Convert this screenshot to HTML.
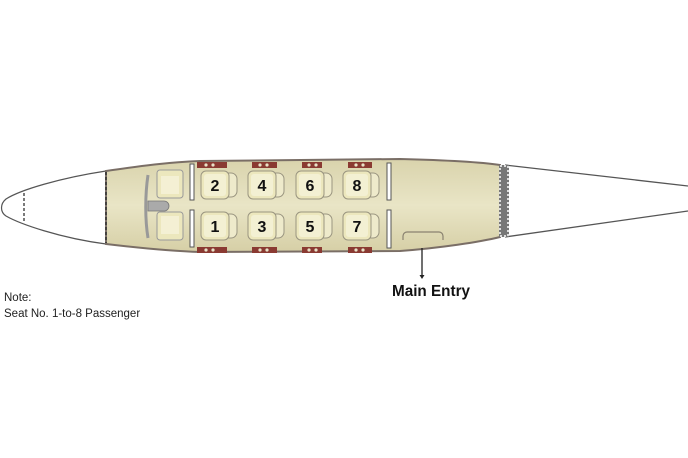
<!DOCTYPE html>
<html><head><meta charset="utf-8"><style>
body{margin:0;background:#fff;width:688px;height:458px;overflow:hidden}
svg{display:block}
</style></head><body>
<svg width="688" height="458" viewBox="0 0 688 458" xmlns="http://www.w3.org/2000/svg">
<defs>
<linearGradient id="cab" x1="0" y1="0" x2="0" y2="1">
<stop offset="0" stop-color="#d9d3ac"/><stop offset="0.5" stop-color="#e9e5c6"/><stop offset="1" stop-color="#d6cfa6"/>
</linearGradient>
<g id="seat">
<path d="M26 2 h4 a6 6 0 0 1 6 6 v12 a6 6 0 0 1 -6 6 h-4z" fill="#eeeacb" stroke="#9a9580" stroke-width="1"/>
<rect x="0" y="0" width="28" height="28" rx="5" fill="#ece7bd" stroke="#9a9580" stroke-width="1"/>
<rect x="3" y="3" width="22" height="22" rx="3" fill="#f3f0d3"/>
</g>
</defs>
<path d="M106 171 C60 178 20 190 6 199 C0 204 0 212 6 216 C20 224 60 238 106 244 Z" fill="#fff" stroke="#555" stroke-width="1.2"/>
<line x1="24" y1="193" x2="24" y2="223" stroke="#333" stroke-width="1.3" stroke-dasharray="3,2"/>
<path d="M505 165 L688 186 M505 237 L688 211" stroke="#555" stroke-width="1.3" fill="none"/>
<path d="M106 171 C140 166 170 162 200 161 L400 159 C440 160 480 162 500 165 L500 237 C480 242 440 248 400 251 L200 252 C170 251 140 248 106 244 Z" fill="url(#cab)" stroke="#7a6e66" stroke-width="2"/>
<line x1="106" y1="172" x2="106" y2="243" stroke="#333" stroke-width="1.5" stroke-dasharray="3,2"/>
<rect x="499" y="165" width="10" height="72" fill="#777"/>
<rect x="500" y="166" width="8" height="70" fill="none" stroke="#ddd" stroke-width="2" stroke-dasharray="2,2"/>
<g fill="#8a3a32">
<rect x="197" y="162" width="30" height="6"/><rect x="252" y="162" width="25" height="6"/><rect x="302" y="162" width="20" height="6"/><rect x="348" y="162" width="24" height="6"/>
<rect x="197" y="247" width="30" height="6"/><rect x="252" y="247" width="25" height="6"/><rect x="302" y="247" width="20" height="6"/><rect x="348" y="247" width="24" height="6"/>
</g>
<g fill="#e8e2c8">
<circle cx="206" cy="165" r="1.6"/><circle cx="213" cy="165" r="1.6"/><circle cx="260" cy="165" r="1.6"/><circle cx="267" cy="165" r="1.6"/><circle cx="309" cy="165" r="1.6"/><circle cx="316" cy="165" r="1.6"/><circle cx="356" cy="165" r="1.6"/><circle cx="363" cy="165" r="1.6"/>
<circle cx="206" cy="250" r="1.6"/><circle cx="213" cy="250" r="1.6"/><circle cx="260" cy="250" r="1.6"/><circle cx="267" cy="250" r="1.6"/><circle cx="309" cy="250" r="1.6"/><circle cx="316" cy="250" r="1.6"/><circle cx="356" cy="250" r="1.6"/><circle cx="363" cy="250" r="1.6"/>
</g>
<g fill="#fff" stroke="#555" stroke-width="1">
<rect x="190" y="164" width="4" height="36"/><rect x="190" y="210" width="4" height="37"/>
<rect x="387" y="163" width="4" height="37"/><rect x="387" y="210" width="4" height="38"/>
</g>
<path d="M148 175 C145 195 145 220 148 238" stroke="#999" stroke-width="3" fill="none"/>
<path d="M148 201 h16 a5 5 0 0 1 0 10 h-16 z" fill="#aaa" stroke="#777" stroke-width="0.8"/>
<rect x="157" y="170" width="26" height="28" rx="3" fill="#ece7bd" stroke="#999"/>
<rect x="161" y="176" width="18" height="18" fill="#f4f0d4"/>
<rect x="157" y="212" width="26" height="28" rx="3" fill="#ece7bd" stroke="#999"/>
<rect x="161" y="216" width="18" height="18" fill="#f4f0d4"/>
<use href="#seat" x="201" y="171"/><use href="#seat" x="248" y="171"/><use href="#seat" x="296" y="171"/><use href="#seat" x="343" y="171"/>
<use href="#seat" x="201" y="212"/><use href="#seat" x="248" y="212"/><use href="#seat" x="296" y="212"/><use href="#seat" x="343" y="212"/>
<g font-family="Liberation Sans, sans-serif" font-weight="bold" font-size="16" fill="#111" text-anchor="middle">
<text x="215" y="191">2</text><text x="262" y="191">4</text><text x="310" y="191">6</text><text x="357" y="191">8</text>
<text x="215" y="232">1</text><text x="262" y="232">3</text><text x="310" y="232">5</text><text x="357" y="232">7</text>
</g>
<path d="M403 240 v-4 a4 4 0 0 1 4 -4 h32 a4 4 0 0 1 4 4 v4" fill="none" stroke="#8a8270" stroke-width="1.2"/>
<line x1="422" y1="248" x2="422" y2="277" stroke="#222" stroke-width="1.3"/>
<path d="M419.5 275 L422 279 L424.5 275 Z" fill="#222"/>
<text x="392" y="296" font-family="Liberation Sans, sans-serif" font-weight="bold" font-size="15.5" fill="#111" textLength="78" lengthAdjust="spacingAndGlyphs">Main Entry</text>
<g font-family="Liberation Sans, sans-serif" font-size="11.5" fill="#222">
<text x="4" y="301">Note:</text>
<text x="4" y="317">Seat No. 1-to-8  Passenger</text>
</g>
</svg>
</body></html>
